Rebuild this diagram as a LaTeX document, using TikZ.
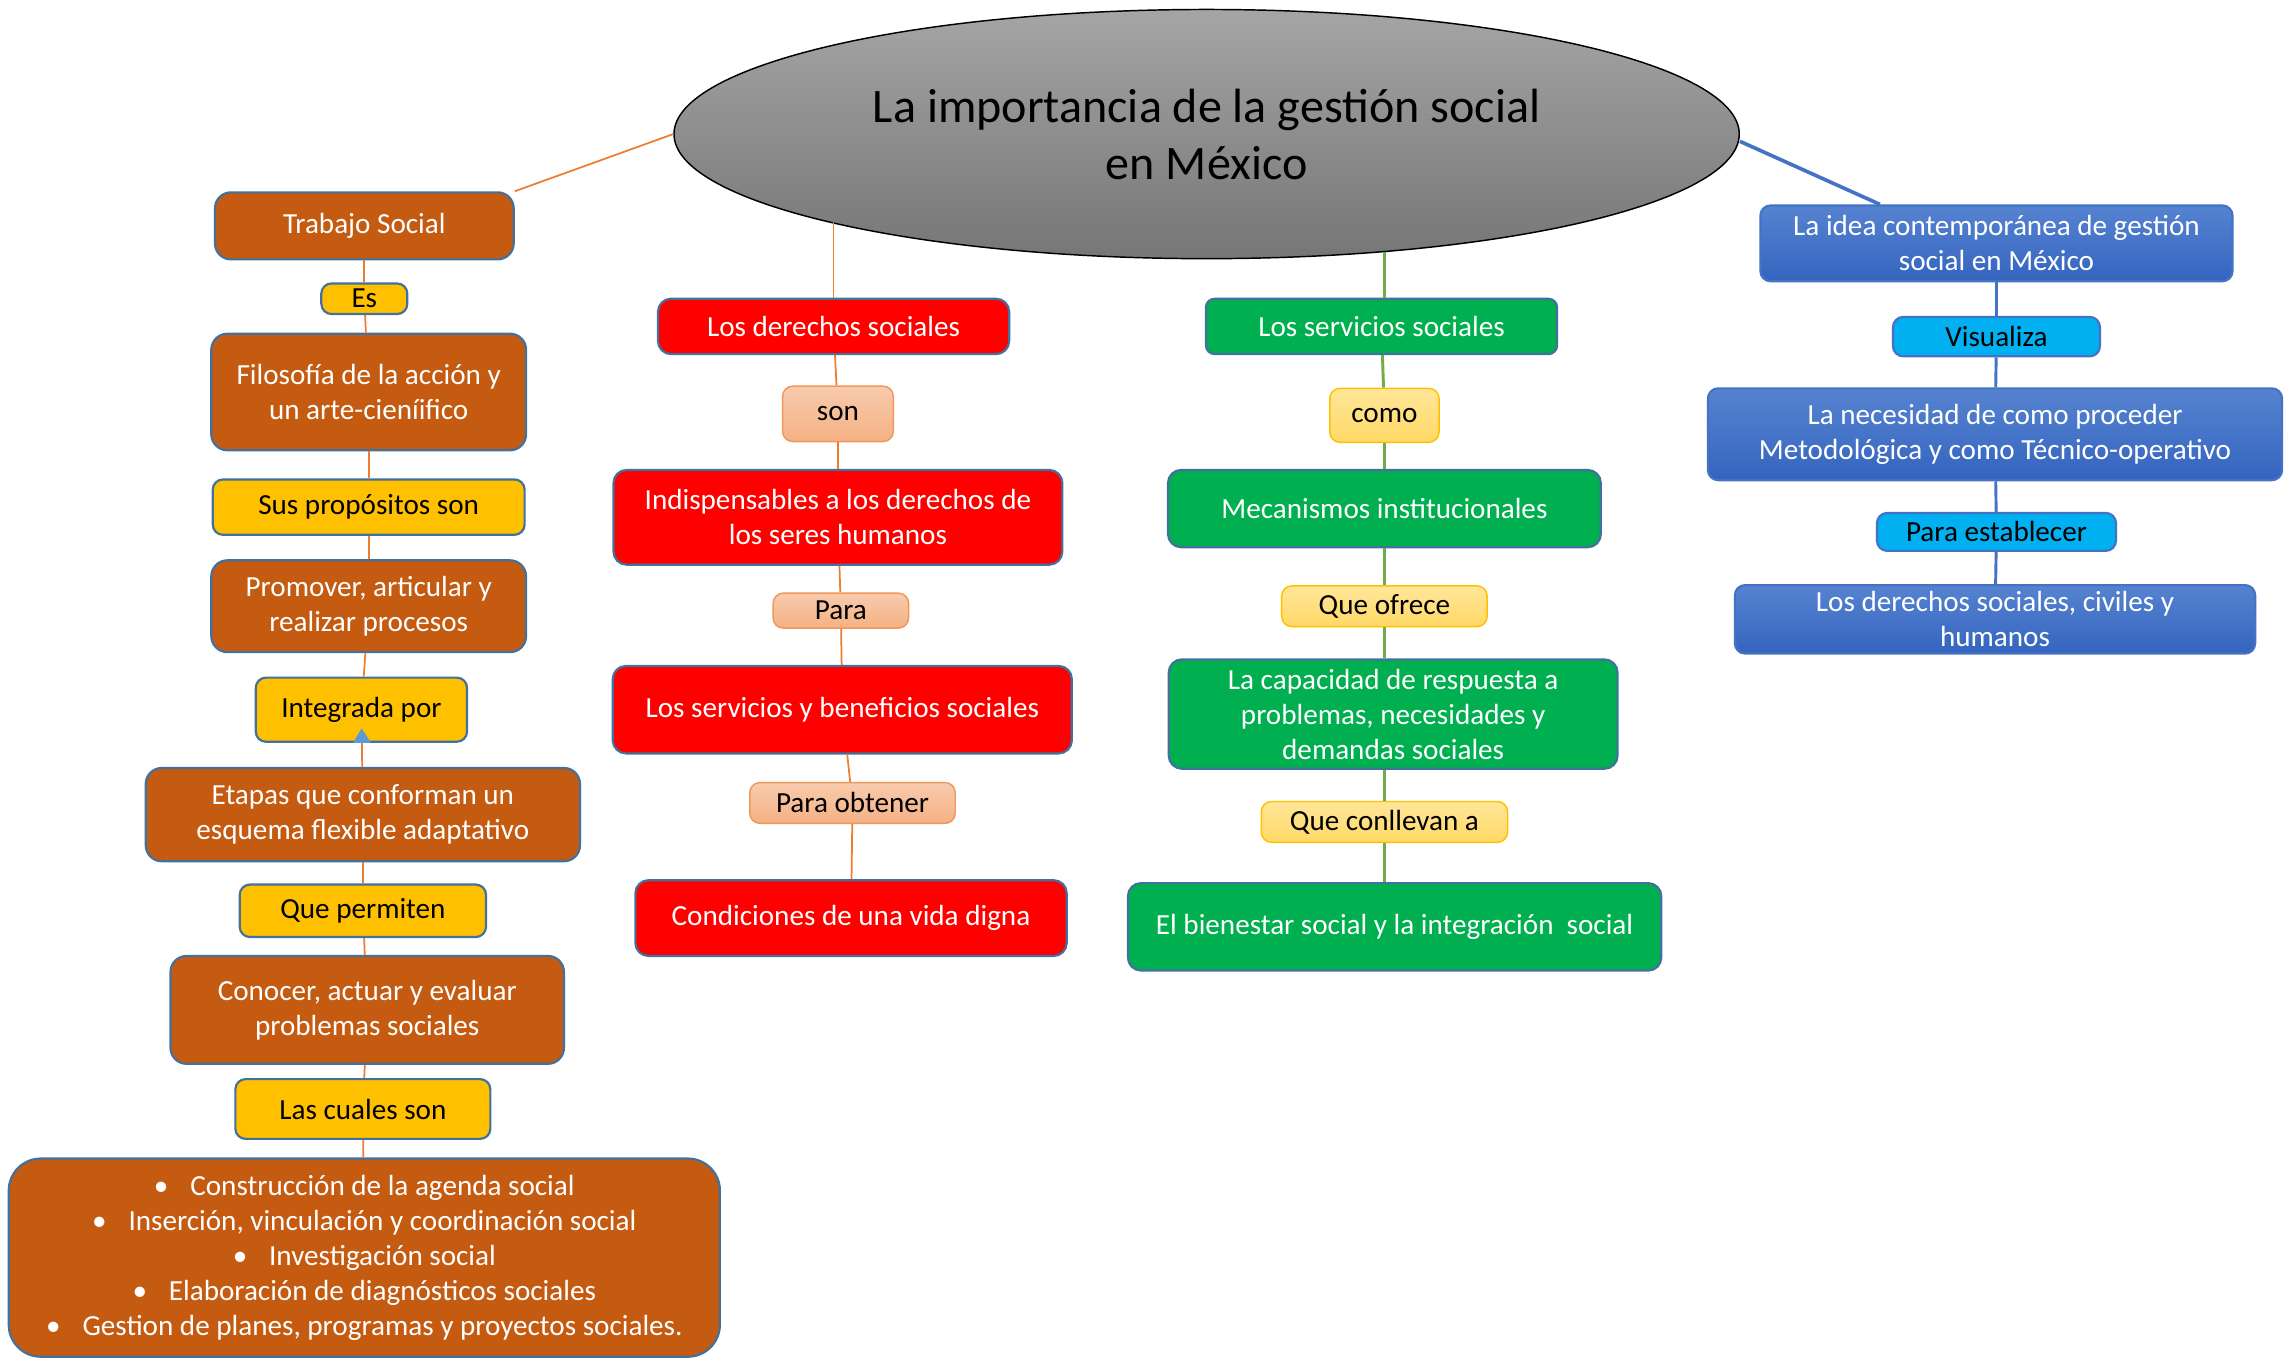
\documentclass[tikz,border=0pt]{standalone}
\usepackage{fontspec}
\setmainfont{Carlito}
\usepackage{tikz}
\usetikzlibrary{shapes, arrows.meta, positioning}

\definecolor{tsbrown}{HTML}{C55A11}
\definecolor{tsyellow}{HTML}{FFC000}
\definecolor{edgeblue}{HTML}{41719C}
\definecolor{orangeln}{HTML}{ED7D31}
\definecolor{salmontop}{HTML}{F8CBAD}
\definecolor{salmonbot}{HTML}{F4B183}
\definecolor{greenbox}{HTML}{00B050}
\definecolor{greenln}{HTML}{70AD47}
\definecolor{paletop}{HTML}{FFE699}
\definecolor{palebot}{HTML}{FFD966}
\definecolor{bluetop}{HTML}{5683D0}
\definecolor{bluebot}{HTML}{3464BF}
\definecolor{blueln}{HTML}{4472C4}
\definecolor{cyanbox}{HTML}{00B0F0}
\definecolor{graytop}{HTML}{A5A5A5}
\definecolor{graybot}{HTML}{767676}
\definecolor{tipblue}{HTML}{5B9BD5}

\begin{document}
\begin{tikzpicture}[x=1pt, y=-1pt, node distance=60pt, thick]

    % Define block styles
    \tikzstyle{concept} = [rectangle, draw=edgeblue, line width=1.5pt, align=center,
        inner sep=2pt, rounded corners=7pt, text=white, font=\fontsize{20}{24}\selectfont]
    \tikzstyle{brownbox} = [concept, fill=tsbrown, rounded corners=11pt]
    \tikzstyle{yellowbox} = [concept, fill=tsyellow, text=black]
    \tikzstyle{redbox} = [concept, fill=red, rounded corners=9pt]
    \tikzstyle{salmonbox} = [concept, draw=orangeln!80, line width=1pt,
        top color=salmontop, bottom color=salmonbot, text=black]
    \tikzstyle{greenbox} = [concept, fill=greenbox, rounded corners=9pt]
    \tikzstyle{palebox} = [concept, draw=tsyellow, line width=1pt,
        top color=paletop, bottom color=palebot, text=black]
    \tikzstyle{bluebox} = [concept, draw=blueln, top color=bluetop, bottom color=bluebot]
    \tikzstyle{cyanbox} = [concept, draw=blueln, fill=cyanbox, text=black]
    \tikzstyle{title} = [ellipse, draw=black, line width=1pt, top color=graytop,
        bottom color=graybot, align=center, inner sep=0pt,
        font=\fontsize{33}{39}\selectfont]
    \tikzstyle{orangeline} = [draw=orangeln, line width=1.2pt]
    \tikzstyle{greenline} = [draw=greenln, line width=2pt]
    \tikzstyle{blueline} = [draw=blueln, line width=2pt]

    \useasboundingbox (0,0) rectangle (1568,933);

    % Define nodes
    \node [title, minimum width=731pt, minimum height=171pt] (titulo) at (828,92)
        {La importancia de la gestión social\\en México};

    % left column
    \node [brownbox, minimum width=205pt, minimum height=46pt] (trabajo) at (250,155) {Trabajo Social};
    \node [yellowbox, below of=trabajo, node distance=50pt, minimum width=59pt, minimum height=21pt, inner sep=0pt] (es) {Es};
    \node [brownbox, below of=es, node distance=64pt, xshift=3pt, minimum width=216pt, minimum height=80pt] (filosofia) {Filosofía de la acción y\\un arte-cieníifico};
    \node [yellowbox, below of=filosofia, node distance=79pt, minimum width=214pt, minimum height=38pt] (propositos) {Sus propósitos son};
    \node [brownbox, below of=propositos, node distance=68pt, minimum width=216pt, minimum height=63pt] (promover) {Promover, articular y\\realizar procesos};
    \node [yellowbox, below of=promover, node distance=71pt, xshift=-5pt, minimum width=145pt, minimum height=44pt] (integrada) {Integrada por};
    \node [brownbox, below of=integrada, node distance=72pt, xshift=1pt, minimum width=298pt, minimum height=64pt] (etapas) {Etapas que conforman un\\esquema flexible adaptativo};
    \node [yellowbox, below of=etapas, node distance=66pt, minimum width=169pt, minimum height=36pt] (permiten) {Que permiten};
    \node [brownbox, below of=permiten, node distance=68pt, xshift=3pt, minimum width=270pt, minimum height=74pt] (conocer) {Conocer, actuar y evaluar\\problemas sociales};
    \node [yellowbox, below of=conocer, node distance=68pt, xshift=-3pt, minimum width=175pt, minimum height=41pt] (cuales) {Las cuales son};
    \node [brownbox, below of=cuales, node distance=102pt, xshift=1pt, minimum width=488pt, minimum height=136pt, rounded corners=22pt] (lista)
        {•\hspace{15pt}Construcción de la agenda social\\
         •\hspace{15pt}Inserción, vinculación y coordinación social\\
         •\hspace{15pt}Investigación social\\
         •\hspace{15pt}Elaboración de diagnósticos sociales\\
         •\hspace{15pt}Gestion de planes, programas y proyectos sociales.};

    % middle column
    \node [redbox, minimum width=241pt, minimum height=38pt] (derechos) at (572,224) {Los derechos sociales};
    \node [salmonbox, below of=derechos, node distance=60pt, xshift=3pt, minimum width=76pt, minimum height=38pt] (son) {son};
    \node [redbox, below of=son, node distance=71pt, minimum width=308pt, minimum height=65pt] (indispensables) {Indispensables a los derechos de\\los seres humanos};
    \node [salmonbox, below of=indispensables, node distance=64pt, xshift=2pt, minimum width=93pt, minimum height=24pt, inner sep=0pt] (para) {Para};
    \node [redbox, below of=para, node distance=68pt, xshift=1pt, minimum width=315pt, minimum height=60pt] (beneficios) {Los servicios y beneficios sociales};
    \node [salmonbox, below of=beneficios, node distance=64pt, xshift=7pt, minimum width=141pt, minimum height=28pt, inner sep=0pt] (obtener) {Para obtener};
    \node [redbox, below of=obtener, node distance=79pt, xshift=-1pt, minimum width=296pt, minimum height=52pt] (condiciones) {Condiciones de una vida digna};

    % green column
    \node [greenbox, minimum width=241pt, minimum height=38pt, rounded corners=6pt] (servicios) at (948,224) {Los servicios sociales};
    \node [palebox, below of=servicios, node distance=61pt, xshift=2pt, minimum width=75pt, minimum height=37pt] (como) {como};
    \node [greenbox, below of=como, node distance=64pt, minimum width=297pt, minimum height=53pt] (mecanismos) {Mecanismos institucionales};
    \node [palebox, below of=mecanismos, node distance=67pt, minimum width=141pt, minimum height=28pt, inner sep=0pt] (ofrece) {Que ofrece};
    \node [greenbox, below of=ofrece, node distance=74pt, xshift=6pt, minimum width=308pt, minimum height=75pt, inner sep=0pt] (capacidad) {La capacidad de respuesta a\\problemas, necesidades y\\demandas sociales};
    \node [palebox, below of=capacidad, node distance=74pt, xshift=-6pt, minimum width=169pt, minimum height=28pt, inner sep=0pt] (conllevan) {Que conllevan a};
    \node [greenbox, below of=conllevan, node distance=72pt, xshift=7pt, minimum width=366pt, minimum height=60pt] (bienestar) {El bienestar social y la integración\ \ social};

    % right column
    \node [bluebox, minimum width=324pt, minimum height=52pt, inner sep=0pt] (idea) at (1370,167) {La idea contemporánea de gestión\\social en México};
    \node [cyanbox, below of=idea, node distance=64pt, minimum width=142pt, minimum height=27pt, inner sep=0pt] (visualiza) {Visualiza};
    \node [bluebox, below of=visualiza, node distance=67pt, xshift=-1pt, minimum width=394pt, minimum height=63pt] (necesidad) {La necesidad de como proceder\\Metodológica y como Técnico-operativo};
    \node [cyanbox, below of=necesidad, node distance=67pt, xshift=1pt, minimum width=164pt, minimum height=26pt, inner sep=0pt] (establecer) {Para establecer};
    \node [bluebox, below of=establecer, node distance=60pt, xshift=-1pt, minimum width=357pt, minimum height=47pt, inner sep=0pt] (civiles) {Los derechos sociales, civiles y\\humanos};

    % Draw edges
    \path [orangeline] (titulo.west) -- (trabajo.north east);
    \path [orangeline] (trabajo) -- (es);
    \path [orangeline] (es) -- (filosofia);
    \path [orangeline] (filosofia) -- (propositos);
    \path [orangeline] (propositos) -- (promover);
    \path [orangeline] (promover) -- (integrada);
    \path [orangeline, -{Triangle[color=tipblue, length=10pt, width=12pt]}, shorten >=-10pt] (etapas) -- (integrada);
    \path [orangeline] (etapas) -- (permiten);
    \path [orangeline] (permiten) -- (conocer);
    \path [orangeline] (conocer) -- (cuales);
    \path [orangeline] (cuales) -- (lista);

    \path [orangeline] (derechos.north) -- (derechos.north |- titulo.193);
    \path [orangeline] (derechos) -- (son);
    \path [orangeline] (son) -- (indispensables);
    \path [orangeline] (indispensables) -- (para);
    \path [orangeline] (para) -- (beneficios);
    \path [orangeline] (beneficios) -- (obtener);
    \path [orangeline] (obtener) -- (condiciones);

    \path [greenline] (servicios.north -| como.north) -- (como.north |- titulo.327);
    \path [greenline] (servicios) -- (como);
    \path [greenline] (como) -- (mecanismos);
    \path [greenline] (mecanismos) -- (ofrece);
    \path [greenline] (ofrece) -- (ofrece |- capacidad.north);
    \path [greenline] (capacidad.south -| conllevan) -- (conllevan);
    \path [greenline] (conllevan) -- (conllevan |- bienestar.north);

    \path [blueline, line width=2.5pt] ([yshift=-5pt]titulo.east) -- ([xshift=-80pt]idea.north);
    \path [blueline] (idea) -- (visualiza);
    \path [blueline] (visualiza) -- (necesidad);
    \path [blueline] (necesidad) -- (establecer);
    \path [blueline] (establecer) -- (civiles);

\end{tikzpicture}
\end{document}
